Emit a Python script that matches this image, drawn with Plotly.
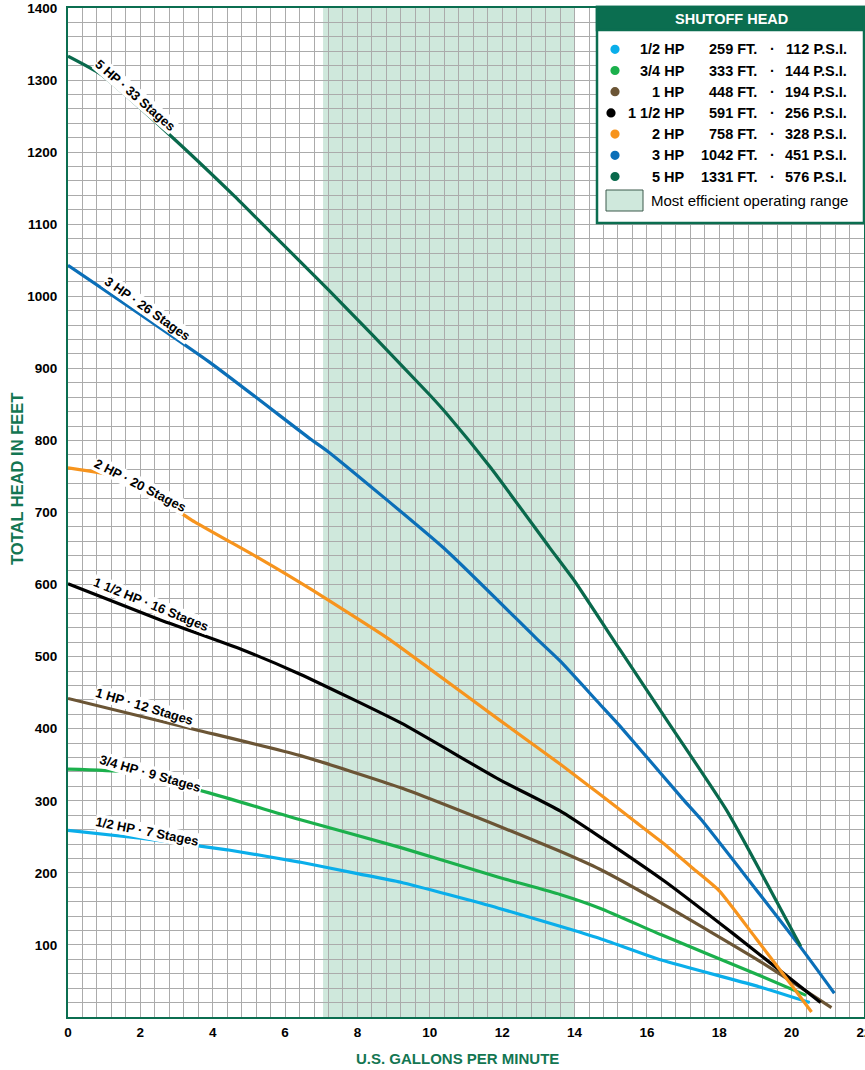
import plotly.graph_objects as go

# ---------------- data ----------------
hp_labels = ["1/2 HP", "3/4 HP", "1 HP", "1 1/2 HP", "2 HP", "3 HP", "5 HP"]
stages = [7, 9, 12, 16, 20, 26, 33]
shutoff_ft = [259, 333, 448, 591, 758, 1042, 1331]
shutoff_psi = [112, 144, 194, 256, 328, 451, 576]
colors = ["#0aaeea", "#1bb04c", "#6b5535", "#000000", "#f7941d", "#0b6fb8", "#09694c"]

gpm_half = [0, 2.0, 4.4, 6.4, 8.0, 9.2, 11.9, 13.6, 14.7, 16.4, 19.1, 20.5]
head_half = [259, 248, 232, 215, 199, 187, 151, 126, 109, 79, 42, 20]

gpm_34 = [0, 1.6, 3.9, 6.4, 9.2, 11.9, 13.6, 14.7, 16.4, 19.1, 20.4]
head_34 = [344, 340, 311, 274, 235, 194, 170, 151, 114, 58, 30]

gpm_1 = [0, 3.5, 6.4, 9.2, 11.9, 13.6, 14.7, 16.4, 19.1, 21.1]
head_1 = [442, 399, 363, 318, 265, 230, 205, 158, 78, 13]

gpm_1half = [0, 2.5, 4.8, 6.4, 9.2, 11.9, 13.6, 14.7, 16.5, 18.4, 20.8]
head_1half = [601, 552, 510, 476, 408, 330, 286, 250, 188, 115, 20]

gpm_2 = [0, 1.6, 3.5, 5.3, 6.7, 8.85, 10.0, 11.9, 13.6, 14.7, 15.6, 16.4, 17.3, 18.0, 19.0, 20.0, 20.55]
head_2 = [762, 747, 687, 636, 594, 525, 483, 413, 351, 309, 274, 243, 205, 175, 110, 44, 7]

gpm_3 = [0, 3.9, 6.7, 7.2, 10.4, 12.95, 13.6, 14.7, 15.25, 17.0, 17.5, 20.23, 21.18]
head_3 = [1043, 909, 802, 784, 650, 525, 494, 434, 404, 302, 274, 98, 33]

gpm_5 = [0, 0.9, 2.7, 4.6, 5.3, 7.2, 8.4, 10.0, 10.5, 11.7, 13.3, 14.0, 15.25, 16.6, 18.2, 20.25]
head_5 = [1333, 1308, 1229, 1139, 1104, 1009, 947, 863, 835, 761, 652, 605, 510, 408, 287, 98]

efficient_range = [7.05, 14.0]
x_ticks = [0, 2, 4, 6, 8, 10, 12, 14, 16, 18, 20, 22]
y_ticks = [100, 200, 300, 400, 500, 600, 700, 800, 900, 1000, 1100, 1200, 1300, 1400]

series_x = [gpm_half, gpm_34, gpm_1, gpm_1half, gpm_2, gpm_3, gpm_5]
series_y = [head_half, head_34, head_1, head_1half, head_2, head_3, head_5]

# ---------------- figure ----------------
W, H = 865, 1070
ML, MR, MT, MB = 68, 1, 8, 53
FONT = "Liberation Sans, Arial, Helvetica, sans-serif"
GREEN = "#0b6e50"
TITLE_GREEN = "#137652"


def px(xs):
    """pixel x -> paper coordinate"""
    return (xs - ML) / (W - ML - MR)


def py(ys):
    """pixel y -> paper coordinate"""
    return (H - MB - ys) / (H - MT - MB)


fig = go.Figure()
for i in range(len(hp_labels)):
    fig.add_trace(go.Scatter(
        x=series_x[i], y=series_y[i], mode="lines",
        line=dict(color=colors[i], width=3.2, shape="spline", smoothing=0.5),
        name=hp_labels[i], showlegend=False, hoverinfo="skip"))

shapes = []
shapes.append(dict(type="rect", xref="x", yref="paper", x0=efficient_range[0], x1=efficient_range[1],
                   y0=0, y1=1, fillcolor="#cfe8dc", line=dict(width=0), layer="below"))

annotations = []
# curve labels
label_pos = [(2.20, 258, 11), (2.27, 338, 16), (2.12, 431, 16.5), (2.31, 573, 22),
             (2.01, 738, 27), (2.19, 983, 35), (1.87, 1279, 41)]
for i, (lx, ly, ang) in enumerate(label_pos):
    annotations.append(dict(
        x=lx, y=ly, xref="x", yref="y", text=f"{hp_labels[i]} · {stages[i]} Stages",
        showarrow=False, textangle=ang, bgcolor="white", borderpad=0,
        font=dict(family=FONT, size=13, color="black", weight="bold")))

# legend box
bx0, bx1, by0, by1 = 597, 864, 7, 223
shapes.append(dict(type="rect", xref="paper", yref="paper", x0=px(bx0), x1=px(bx1), y0=py(by1), y1=py(by0),
                   fillcolor="white", line=dict(color=GREEN, width=2.5), layer="above"))
shapes.append(dict(type="rect", xref="paper", yref="paper", x0=px(bx0), x1=px(bx1), y0=py(30), y1=py(by0),
                   fillcolor=GREEN, line=dict(color=GREEN, width=2.5), layer="above"))
annotations.append(dict(x=px(731), y=py(19), xref="paper", yref="paper", text="SHUTOFF HEAD",
                        showarrow=False, font=dict(family=FONT, size=14.5, color="white", weight="bold"),
                        xanchor="center", yanchor="middle"))
for i in range(len(hp_labels)):
    ry = 49.3 + i * 21.2
    dot_x = 611 if hp_labels[i] == "1 1/2 HP" else 615
    shapes.append(dict(type="circle", xref="paper", yref="paper", xsizemode="pixel", ysizemode="pixel",
                       xanchor=px(dot_x), yanchor=py(ry), x0=-4.6, x1=4.6, y0=-4.6, y1=4.6,
                       fillcolor=colors[i], line=dict(width=0), layer="above"))
    lf = dict(family=FONT, size=14.5, color="black", weight="bold")
    annotations.append(dict(x=px(686), y=py(ry), xref="paper", yref="paper", text=hp_labels[i],
                            showarrow=False, xanchor="right", yanchor="middle", font=lf, borderpad=0))
    annotations.append(dict(x=px(758), y=py(ry), xref="paper", yref="paper", text=f"{shutoff_ft[i]} FT.",
                            showarrow=False, xanchor="right", yanchor="middle", font=lf, borderpad=0))
    annotations.append(dict(x=px(772), y=py(ry), xref="paper", yref="paper", text="·",
                            showarrow=False, xanchor="center", yanchor="middle", font=lf, borderpad=0))
    annotations.append(dict(x=px(848), y=py(ry), xref="paper", yref="paper", text=f"{shutoff_psi[i]} P.S.I.",
                            showarrow=False, xanchor="right", yanchor="middle", font=lf, borderpad=0))
shapes.append(dict(type="rect", xref="paper", yref="paper", x0=px(606), x1=px(643), y0=py(211), y1=py(190),
                   fillcolor="#cfe8dc", line=dict(color="#3d5a4c", width=1), layer="above"))
annotations.append(dict(x=px(650), y=py(200), xref="paper", yref="paper", text="Most efficient operating range",
                        showarrow=False, xanchor="left", yanchor="middle", borderpad=0,
                        font=dict(family=FONT, size=15, color="black")))

# axis titles
annotations.append(dict(x=px(17), y=py(479), xref="paper", yref="paper", text="TOTAL HEAD IN FEET",
                        showarrow=False, textangle=-90, xanchor="center", yanchor="middle",
                        font=dict(family=FONT, size=16.5, color=TITLE_GREEN, weight="bold")))
annotations.append(dict(x=px(457), y=py(1058), xref="paper", yref="paper", text="U.S. GALLONS PER MINUTE",
                        showarrow=False, xanchor="center", yanchor="middle",
                        font=dict(family=FONT, size=15, color=TITLE_GREEN, weight="bold")))

tickfont = dict(family=FONT, size=13.5, color="black", weight="bold")
fig.update_layout(
    width=W, height=H, autosize=False,
    margin=dict(l=ML, r=MR, t=MT, b=MB, pad=0, autoexpand=False),
    paper_bgcolor="white", plot_bgcolor="white",
    shapes=shapes, annotations=annotations,
    xaxis=dict(range=[0, 22], tickvals=x_ticks, showgrid=True, gridcolor="#ababab", gridwidth=1,
               minor=dict(dtick=0.4, tick0=0, showgrid=True, gridcolor="#ababab", gridwidth=1),
               showline=True, linecolor=GREEN, linewidth=2, mirror=True, zeroline=False,
               ticks="", tickfont=tickfont, ticklabelstandoff=2, ticklabeloverflow="allow",
               automargin=False, fixedrange=True),
    yaxis=dict(range=[0, 1400], tickvals=y_ticks, showgrid=True, gridcolor="#ababab", gridwidth=1,
               minor=dict(dtick=20, tick0=0, showgrid=True, gridcolor="#ababab", gridwidth=1),
               showline=True, linecolor=GREEN, linewidth=2, mirror=True, zeroline=False,
               ticks="", tickfont=tickfont, ticklabelstandoff=6, automargin=False, fixedrange=True),
)

# remove the default page margin and scrollbars so the figure fills the window exactly
page_fix = ("document.documentElement.style.overflow='hidden';"
            "document.body.style.margin='0';document.body.style.overflow='hidden';")
fig.write_html("out.html", config={"displayModeBar": False}, post_script=page_fix)
